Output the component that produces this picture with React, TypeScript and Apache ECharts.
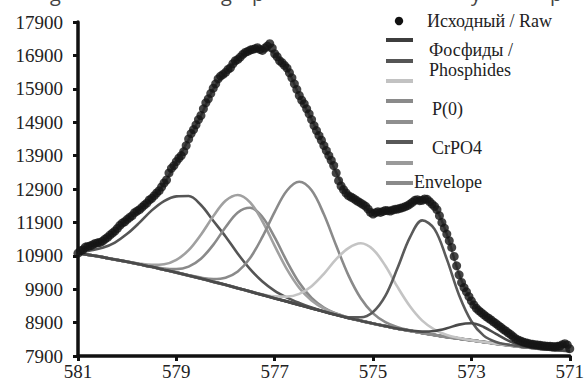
import React, { useEffect, useRef } from "react";
import * as echarts from "echarts";

// Binding energy grid for the fitted curves (eV)
const gridEnergy = [
  581, 580.75, 580.5, 580.25, 580, 579.75, 579.5, 579.25, 579, 578.75,
  578.5, 578.25, 578, 577.75, 577.5, 577.25, 577, 576.75, 576.5, 576.25,
  576, 575.75, 575.5, 575.25, 575, 574.75, 574.5, 574.25, 574, 573.75,
  573.5, 573.25, 573, 572.75, 572.5, 572.25, 572, 571.75, 571.5, 571.25, 571,
];

const background = [
  10980, 10920, 10860, 10790, 10720, 10645, 10570, 10485, 10400, 10310,
  10220, 10125, 10030, 9930, 9830, 9730, 9630, 9530, 9430, 9330,
  9230, 9135, 9040, 8955, 8870, 8795, 8720, 8655, 8590, 8530,
  8470, 8420, 8370, 8320, 8270, 8225, 8180, 8140, 8100, 8075, 8050,
];

const peakA = [
  11000, 11060, 11140, 11298, 11557, 11893, 12260, 12540, 12680, 12690,
  12420, 11950, 11480, 10960, 10500, 10130, 9850, 9650, 9490, 9350,
  9235, 9135, 9040, 8955, 8870, 8795, 8720, 8655, 8590, 8530,
  8470, 8420, 8370, 8320, 8270, 8225, 8180, 8140, 8100, 8075, 8050,
];

const peakB = [
  10980, 10920, 10860, 10790, 10720, 10645, 10579, 10517, 10501, 10576,
  10812, 11227, 11754, 12199, 12340, 12062, 11452, 10727, 10091, 9637,
  9350, 9174, 9051, 8955, 8870, 8795, 8720, 8655, 8590, 8530,
  8470, 8420, 8370, 8320, 8270, 8225, 8180, 8140, 8100, 8075, 8050,
];

const peakC = [
  10980, 10920, 10860, 10790, 10725, 10664, 10631, 10648, 10779, 11069,
  11533, 12082, 12547, 12722, 12501, 11934, 11198, 10493, 9940, 9562,
  9322, 9166, 9049, 8955, 8870, 8795, 8720, 8655, 8590, 8530,
  8470, 8420, 8370, 8320, 8270, 8225, 8180, 8140, 8100, 8075, 8050,
];

const peakD = [
  10980, 10920, 10860, 10790, 10720, 10645, 10570, 10485, 10400, 10320,
  10246, 10205, 10245, 10430, 10833, 11465, 12216, 12856, 13119, 12860,
  12142, 11207, 10313, 9628, 9177, 8916, 8761, 8666, 8590, 8530,
  8470, 8420, 8370, 8320, 8270, 8225, 8180, 8140, 8100, 8075, 8050,
];

const peakE = [
  10980, 10920, 10860, 10790, 10720, 10645, 10570, 10485, 10400, 10310,
  10220, 10125, 10030, 9930, 9830, 9748, 9685, 9678, 9760, 9990,
  10360, 10800, 11130, 11275, 11090, 10600, 9960, 9390, 8960, 8690,
  8530, 8440, 8370, 8320, 8270, 8225, 8180, 8140, 8100, 8075, 8050,
];

const peakF = [
  10980, 10920, 10860, 10790, 10720, 10645, 10570, 10485, 10400, 10310,
  10220, 10125, 10030, 9930, 9830, 9730, 9630, 9530, 9430, 9330,
  9230, 9135, 9060, 9060, 9220, 9700, 10540, 11450, 11960, 11700,
  10800, 9720, 8940, 8510, 8320, 8235, 8180, 8140, 8100, 8075, 8050,
];

const peakG = [
  10980, 10920, 10860, 10790, 10720, 10645, 10570, 10485, 10400, 10310,
  10220, 10125, 10030, 9930, 9830, 9730, 9630, 9530, 9430, 9330,
  9230, 9135, 9040, 8955, 8870, 8795, 8720, 8665, 8630, 8650,
  8730, 8840, 8880, 8770, 8560, 8360, 8225, 8150, 8100, 8075, 8050,
];

const envelope = [
  10990, 11200, 11340, 11650, 11990, 12300, 12620, 13060, 13720, 14380,
  15100, 15900, 16390, 16800, 17060, 17100, 16950, 16500, 15700, 14980,
  14200, 13400, 12700, 12480, 12200, 12240, 12300, 12450, 12560, 12370,
  11550, 10350, 9550, 9140, 8870, 8600, 8350, 8250, 8200, 8190, 8150,
];

// Raw measured spectrum: [binding energy (eV), counts]
const rawSpectrum: [number, number][] = [
  [581.0, 10980], [580.95, 11050], [580.9, 11080], [580.85, 11160], [580.8, 11180],
  [580.75, 11200], [580.7, 11230], [580.65, 11270], [580.6, 11290], [580.55, 11300],
  [580.5, 11340], [580.45, 11400], [580.4, 11450], [580.35, 11520], [580.3, 11580],
  [580.25, 11640], [580.2, 11720], [580.15, 11810], [580.1, 11880], [580.05, 11920],
  [580.0, 11990], [579.95, 12050], [579.9, 12100], [579.85, 12190], [579.8, 12240],
  [579.75, 12280], [579.7, 12350], [579.65, 12420], [579.6, 12480], [579.55, 12570],
  [579.5, 12620], [579.45, 12700], [579.4, 12780], [579.35, 12850], [579.3, 12960],
  [579.25, 13080], [579.2, 13170], [579.15, 13380], [579.1, 13520], [579.05, 13600],
  [579.0, 13720], [578.95, 13820], [578.9, 13900], [578.85, 14020], [578.8, 14200],
  [578.75, 14400], [578.7, 14560], [578.65, 14680], [578.6, 14820], [578.55, 14980],
  [578.5, 15100], [578.45, 15300], [578.4, 15480], [578.35, 15600], [578.3, 15760],
  [578.25, 15920], [578.2, 16050], [578.15, 16200], [578.1, 16280], [578.05, 16330],
  [578.0, 16390], [577.95, 16480], [577.9, 16530], [577.85, 16650], [577.8, 16740],
  [577.75, 16780], [577.7, 16850], [577.65, 16930], [577.6, 16990], [577.55, 17020],
  [577.5, 17060], [577.45, 17080], [577.4, 17100], [577.35, 17130], [577.3, 17080],
  [577.25, 17050], [577.2, 17120], [577.15, 17180], [577.1, 17250], [577.05, 17120],
  [577.0, 16950], [576.95, 16860], [576.9, 16740], [576.85, 16680], [576.8, 16600],
  [576.75, 16520], [576.7, 16380], [576.65, 16230], [576.6, 16050], [576.55, 15880],
  [576.5, 15700], [576.45, 15560], [576.4, 15450], [576.35, 15300], [576.3, 15150],
  [576.25, 14980], [576.2, 14800], [576.15, 14650], [576.1, 14500], [576.05, 14360],
  [576.0, 14200], [575.95, 14050], [575.9, 13900], [575.85, 13760], [575.8, 13600],
  [575.75, 13380], [575.7, 13150], [575.65, 12990], [575.6, 12880], [575.55, 12780],
  [575.5, 12700], [575.45, 12660], [575.4, 12620], [575.35, 12570], [575.3, 12520],
  [575.25, 12480], [575.2, 12430], [575.15, 12380], [575.1, 12300], [575.05, 12200],
  [575.0, 12150], [574.95, 12190], [574.9, 12220], [574.85, 12200], [574.8, 12230],
  [574.75, 12260], [574.7, 12250], [574.65, 12240], [574.6, 12270], [574.55, 12290],
  [574.5, 12300], [574.45, 12320], [574.4, 12340], [574.35, 12370], [574.3, 12400],
  [574.25, 12450], [574.2, 12500], [574.15, 12560], [574.1, 12580], [574.05, 12550],
  [574.0, 12560], [573.95, 12600], [573.9, 12590], [573.85, 12520], [573.8, 12450],
  [573.75, 12380], [573.7, 12280], [573.65, 12100], [573.6, 11900], [573.55, 11730],
  [573.5, 11550], [573.45, 11350], [573.4, 11150], [573.35, 10880], [573.3, 10600],
  [573.25, 10330], [573.2, 10100], [573.15, 9950], [573.1, 9820], [573.05, 9680],
  [573.0, 9550], [572.95, 9430], [572.9, 9330], [572.85, 9260], [572.8, 9200],
  [572.75, 9140], [572.7, 9080], [572.65, 9030], [572.6, 8980], [572.55, 8920],
  [572.5, 8870], [572.45, 8810], [572.4, 8760], [572.35, 8700], [572.3, 8650],
  [572.25, 8590], [572.2, 8540], [572.15, 8480], [572.1, 8420], [572.05, 8380],
  [572.0, 8350], [571.95, 8320], [571.9, 8300], [571.85, 8280], [571.8, 8260],
  [571.75, 8250], [571.7, 8240], [571.65, 8230], [571.6, 8220], [571.55, 8210],
  [571.5, 8200], [571.45, 8195], [571.4, 8190], [571.35, 8185], [571.3, 8180],
  [571.25, 8190], [571.2, 8200], [571.15, 8240], [571.1, 8270], [571.05, 8230],
  [571.0, 8120],
];

const legendLabels = ["Исходный / Raw", "Фосфиды /", "Phosphides", "P(0)", "CrPO4", "Envelope"];
const legendLineColors = ["#3d3d3d", "#555555", "#c2c2c2", "#8a8a8a", "#8f8f8f", "#585858", "#9a9a9a", "#8a8a8a"];

export default function App() {
  const ref = useRef<HTMLDivElement>(null);

  useEffect(() => {
    if (!ref.current) return;
    const chart = echarts.init(ref.current, null, { renderer: "svg" });
    const pairs = (ys: number[]) => gridEnergy.map((e, i) => [e, ys[i]]);
    const curve = (name: string, ys: number[], color: string, width: number, z: number) => ({
      type: "line",
      name,
      data: pairs(ys),
      smooth: 0.35,
      symbol: "none",
      showSymbol: false,
      silent: true,
      z,
      lineStyle: { color, width },
    });

    const serif = "Liberation Serif";
    const legendLineY = [40, 61, 81, 101, 122, 142, 163, 183];
    const graphic: any[] = [];
    graphic.push({ type: "circle", shape: { cx: 399, cy: 21, r: 4.2 }, style: { fill: "#111" } });
    legendLineY.forEach((y, i) => {
      graphic.push({
        type: "line",
        shape: { x1: 386, y1: y, x2: 413, y2: y },
        style: { stroke: legendLineColors[i], lineWidth: 4 },
      });
    });
    const legendTextPos = [
      [427, 21],
      [429, 50],
      [429, 70],
      [432, 109],
      [432, 148],
      [414, 182],
    ];
    legendLabels.forEach((t, i) => {
      graphic.push({
        type: "text",
        x: legendTextPos[i][0],
        y: legendTextPos[i][1],
        style: {
          text: t,
          fontSize: 18,
          fontFamily: serif,
          fill: "#222",
          verticalAlign: "middle",
          align: "left",
        },
      });
    });
    // cropped caption line at the very top (only descenders visible)
    const cropped = [
      ["g", 50],
      ["g", 221],
      ["p", 252],
      ["y", 471],
      ["p", 550],
    ];
    cropped.forEach(([t, x]) => {
      graphic.push({
        type: "text",
        x: x as number,
        y: -17,
        style: { text: t as string, fontSize: 20, fontFamily: "Open Sans", fill: "#444", verticalAlign: "top" },
      });
    });

    chart.setOption({
      animation: false,
      backgroundColor: "#ffffff",
      grid: { left: 78, right: 16, top: 22, bottom: 29, containLabel: false },
      xAxis: {
        type: "value",
        inverse: true,
        min: 571,
        max: 581,
        interval: 2,
        axisLine: { show: true, lineStyle: { color: "#111", width: 3.5 } },
        axisTick: { show: true, length: 5, lineStyle: { color: "#111", width: 3 } },
        axisLabel: { fontFamily: serif, fontSize: 19, color: "#222", margin: 6, formatter: (v: number) => String(v) },
        splitLine: { show: false },
      },
      yAxis: {
        type: "value",
        min: 7900,
        max: 17900,
        interval: 1000,
        axisLine: { show: true, lineStyle: { color: "#111", width: 3.5 } },
        axisTick: { show: true, length: 5, lineStyle: { color: "#111", width: 3 } },
        axisLabel: { fontFamily: serif, fontSize: 19, color: "#222", margin: 15, formatter: (v: number) => String(v) },
        splitLine: { show: false },
      },
      series: [
        curve("Background", background, "#333333", 3, 2),
        curve("Peak A", peakA, "#555555", 2.6, 2),
        curve("Peak B", peakB, "#8a8a8a", 2.6, 2),
        curve("Peak C", peakC, "#a0a0a0", 2.6, 2),
        curve("Peak D", peakD, "#8a8a8a", 2.6, 2),
        curve("Peak E", peakE, "#c4c4c4", 2.6, 2),
        curve("Peak F", peakF, "#5a5a5a", 2.6, 2),
        curve("Peak G", peakG, "#4a4a4a", 2.6, 2),
        curve("Envelope", envelope, "#8a8a8a", 2.4, 3),
        {
          type: "scatter",
          name: "Raw",
          data: rawSpectrum,
          symbol: "circle",
          symbolSize: 9,
          silent: true,
          z: 4,
          itemStyle: { color: "#151515" },
        },
      ],
      graphic,
    });
    return () => chart.dispose();
  }, []);

  return <div ref={ref} style={{ position: "fixed", left: 0, top: 0, width: 587, height: 385 }} />;
}
